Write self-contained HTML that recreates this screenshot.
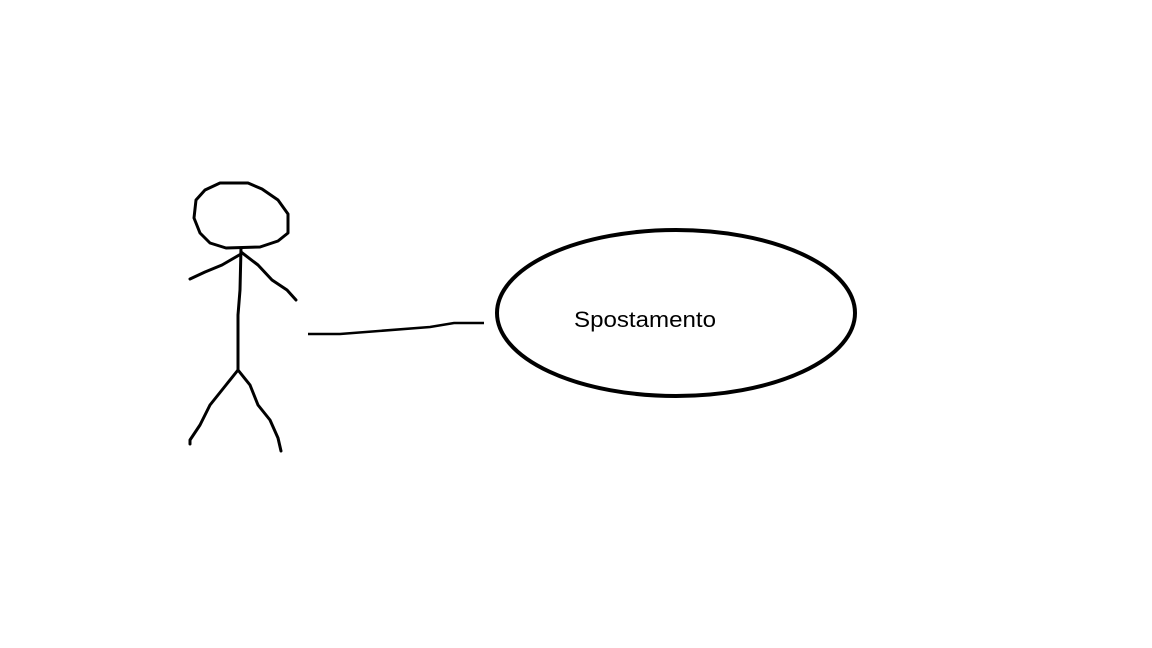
<!DOCTYPE html>
<html><head><meta charset="utf-8"><style>
html,body{margin:0;padding:0;background:#fff;width:1152px;height:648px;overflow:hidden}
</style></head><body>
<svg width="1152" height="648" viewBox="0 0 1152 648">
<g fill="none" stroke="#000" stroke-width="3" stroke-linecap="round" stroke-linejoin="round">
<path d="M220,183 L248,183 L262,189 L278,200 L288,214 L288,233 L278,241 L260,247 L226,248 L210,243 L200,233 L194,218 L196,200 L205,190 Z"/>
<path d="M241,248 L240,290 L238,315 L238,370"/>
<path d="M241,254 L222,265 L205,272 L190,279"/>
<path d="M241,252 L258,265 L272,280 L287,290 L296,300"/>
<path d="M238,370 L226,385 L210,405 L200,425 L190,440 L190,444"/>
<path d="M238,370 L250,385 L258,405 L270,420 L278,438 L281,451"/>
</g>
<path d="M308,334 L340,334 L430,327 L454,323 L484,323" fill="none" stroke="#000" stroke-width="2.5"/>
<ellipse cx="676" cy="313" rx="179" ry="83" fill="none" stroke="#000" stroke-width="4"/>
<text x="574" y="327" font-family="Liberation Sans, sans-serif" font-size="22" fill="#000" textLength="142" lengthAdjust="spacingAndGlyphs">Spostamento</text>
</svg>
</body></html>
